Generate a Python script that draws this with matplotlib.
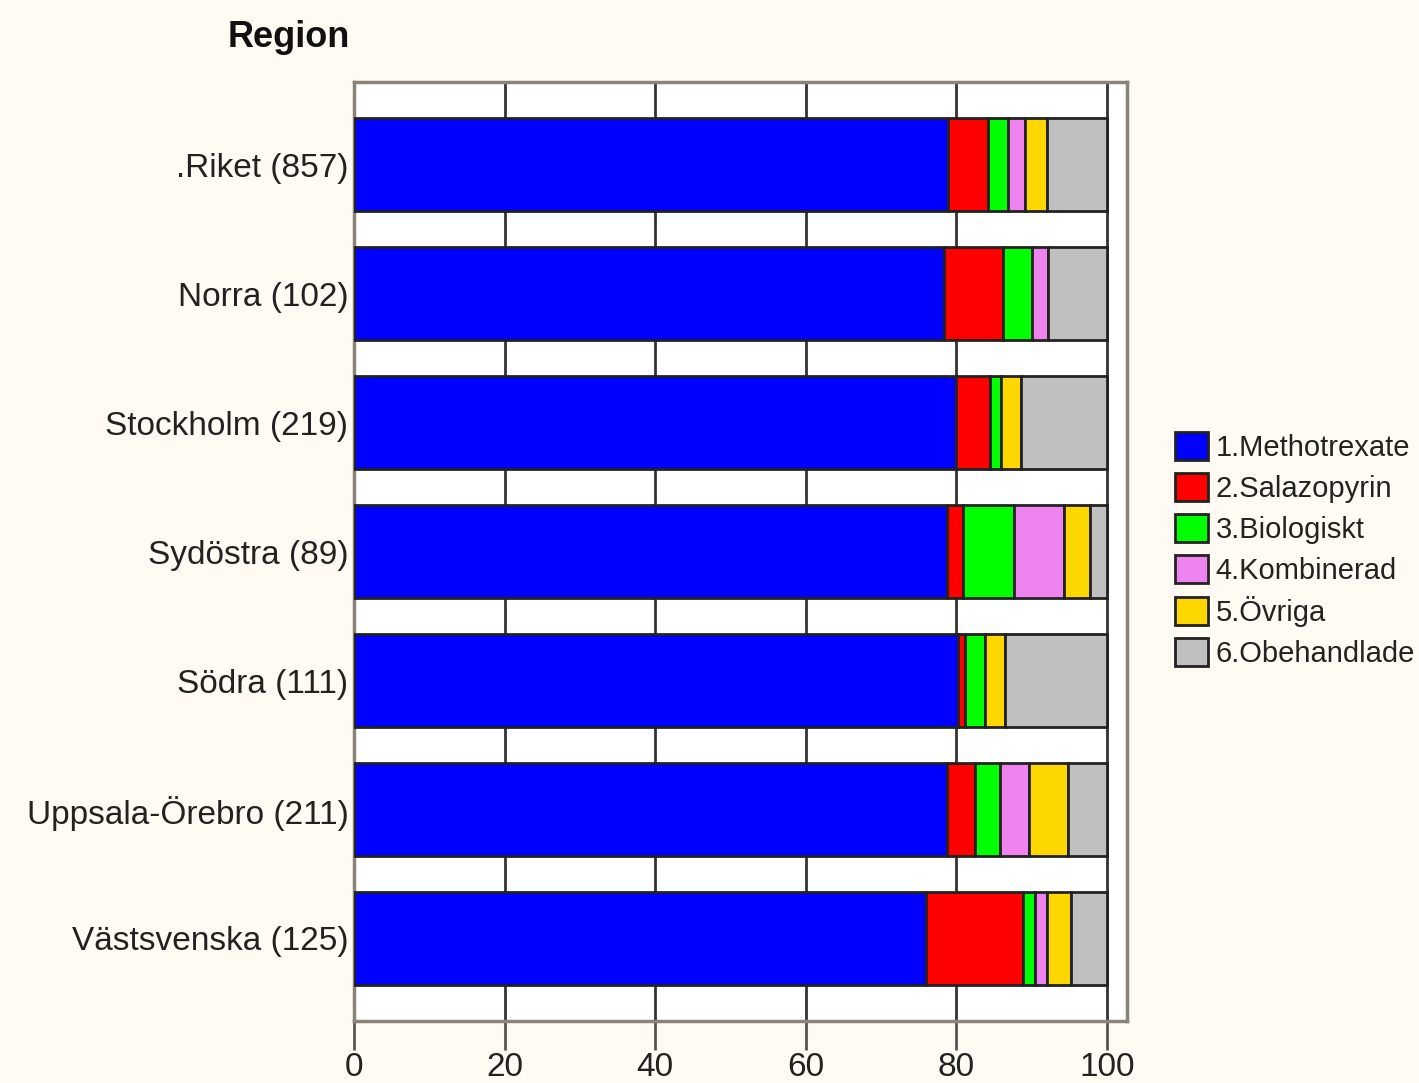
import numpy as np
import matplotlib.pyplot as plt

regions = [".Riket (857)", "Norra (102)", "Stockholm (219)", "Sydöstra (89)",
           "Södra (111)", "Uppsala-Örebro (211)", "Västsvenska (125)"]
series = ["1.Methotrexate", "2.Salazopyrin", "3.Biologiskt", "4.Kombinerad",
          "5.Övriga", "6.Obehandlade"]
colors = ["#0000ff", "#ff0000", "#00ff00", "#ee82ee", "#ffd700", "#c0c0c0"]

# percent per region, one list per treatment
methotrexate = [78.9, 78.4, 79.9, 78.7, 80.2, 78.7, 76.0]
salazopyrin  = [5.3, 7.8, 4.6, 2.2, 0.9, 3.8, 12.8]
biologiskt   = [2.7, 3.9, 1.4, 6.7, 2.7, 3.3, 1.6]
kombinerad   = [2.2, 2.0, 0.0, 6.7, 0.0, 3.8, 1.6]
ovriga       = [2.9, 0.0, 2.7, 3.4, 2.7, 5.2, 3.2]
obehandlade  = [8.0, 7.9, 11.4, 2.3, 13.5, 5.2, 4.8]
values = [methotrexate, salazopyrin, biologiskt, kombinerad, ovriga, obehandlade]

plt.rcParams['font.family'] = ['Liberation Sans', 'DejaVu Sans']

fig = plt.figure(figsize=(14.19, 10.83), dpi=100, facecolor="#fffbf3")
ax = fig.add_axes([0.2495, 0.0572, 0.7942 - 0.2495, 0.9243 - 0.0572])
ax.set_facecolor("white")

y = np.arange(len(regions))
left = np.zeros(len(regions))
for name, vals, c in zip(series, values, colors):
    vals = np.array(vals)
    ax.barh(y, vals, left=left, height=0.72, color=c, edgecolor="#222222",
            linewidth=2, label=name, zorder=3)
    left += vals

ax.set_ylim(len(regions) - 1 + 0.64, -0.64)
ax.set_xlim(0, 102.65)
ax.set_yticks(y)
ax.set_yticklabels(regions, fontsize=24, color="#222222")
ax.tick_params(axis="y", length=0, pad=4)
ax.set_xticks([0, 20, 40, 60, 80, 100])
ax.tick_params(axis="x", length=21, width=2, color="#555555", labelsize=24,
               labelcolor="#222222", pad=1)

for xv in [20, 40, 60, 80, 100]:
    ax.axvline(xv, color="#333333", linewidth=2, zorder=1)

for side in ["top", "bottom", "left", "right"]:
    ax.spines[side].set_color("#8a8478")
    ax.spines[side].set_linewidth(2.5)

fig.text(0.2037, 0.965, "Region", fontsize=26, fontweight="bold",
         ha="center", va="center", color="#111111")

handles, labels = ax.get_legend_handles_labels()
leg = fig.legend(handles, labels, loc="center left", bbox_to_anchor=(0.828, 0.492),
                 frameon=False, fontsize=21, handlelength=1.15, handleheight=1.1,
                 handletextpad=0.25, labelspacing=0.38, labelcolor="#222222",
                 borderpad=0, borderaxespad=0)

fig.savefig("out.png", dpi=100, facecolor=fig.get_facecolor())
